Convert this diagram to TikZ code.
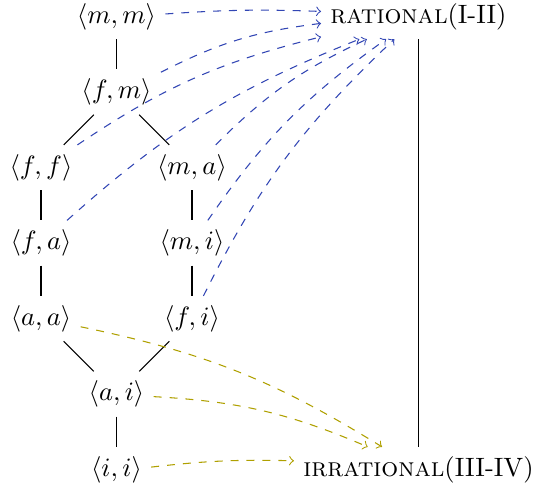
\documentclass[tikz,border=0pt]{standalone}
\usepackage{amsmath,amssymb}
\definecolor{ratblue}{RGB}{50,70,180}
\definecolor{irrolive}{RGB}{175,160,0}

\begin{document}
\begin{tikzpicture}[toRat/.style={->, dashed, ratblue, bend left=10}, toIrr/.style={->, dashed, irrolive, bend left=10}]
	\useasboundingbox (-0.543,0.219) rectangle (6.583,-6.232);
	% lattice
	\node (mm) at (1,0) {$\langle m,m\rangle$};
	\node (fm) at (1,-1) {$\langle f,m\rangle$};
	\node (ff) at (0,-2) {$\langle f,f\rangle$};
	\node (ma) at (2,-2) {$\langle m,a\rangle$};
	\node (fa) at (0,-3) {$\langle f,a\rangle$};
	\node (mi) at (2,-3) {$\langle m,i\rangle$};
	\node (aa) at (0,-4) {$\langle a,a\rangle$};
	\node (fi) at (2,-4) {$\langle f,i\rangle$};
	\node (ai) at (1,-5) {$\langle a,i\rangle$};
	\node (ii) at (1,-6) {$\langle i,i\rangle$};
	% the two classes
	\node (rat) at (5,0) {\textsc{rational}(I-II)};
	\node (irr) at (5,-6) {\textsc{irrational}(III-IV)};
	\draw (mm) -- (fm);
	\draw (fm) -- (ff);
	\draw (fm) -- (ma);
	\draw (ff) -- (fa);
	\draw (fa) -- (aa);
	\draw (ma) -- (mi);
	\draw (mi) -- (fi);
	\draw (aa) -- (ai);
	\draw (fi) -- (ai);
	\draw (ai) -- (ii);
	\draw (rat) -- (irr);
	% maps
	\draw[toRat, bend left=3] (mm) to (rat);
	\draw[toRat] (fm) to (rat);
	\draw[toRat] (ff) to (rat);
	\draw[toRat] (ma) to (rat);
	\draw[toRat] (fa) to (rat);
	\draw[toRat] (mi) to (rat);
	\draw[toRat] (fi) to (rat);
	\draw[toIrr] (aa) to (irr);
	\draw[toIrr] (ai) to (irr);
	\draw[toIrr, bend left=4] (ii) to (irr);
\end{tikzpicture}
\end{document}
